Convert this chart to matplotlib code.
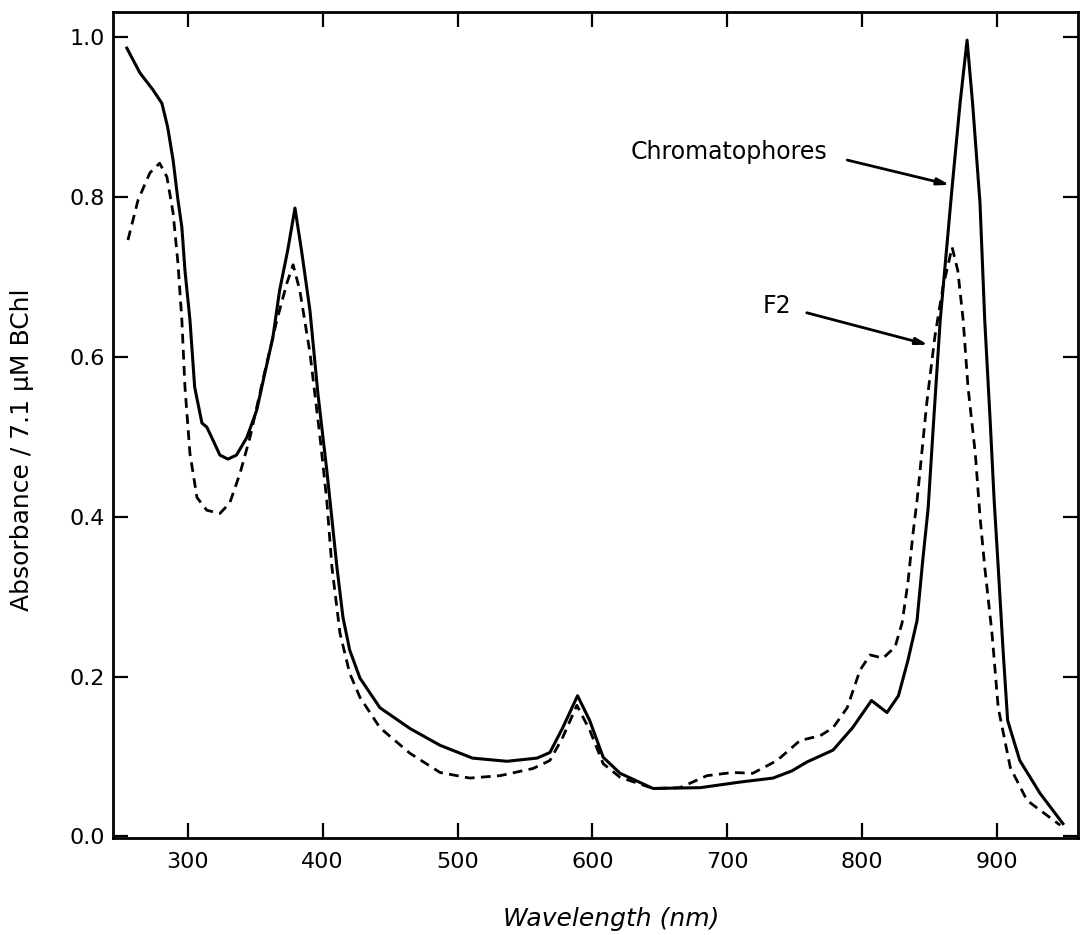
import numpy as np
import matplotlib
matplotlib.use('Agg')
from matplotlib import pyplot as plt

# absorption spectra, absorbance normalised to 7.1 uM BChl
chrom_nm = [254.7, 264.4, 274, 280.7, 285, 289, 292.6, 295.5, 297.8, 301.5,
            305, 310.4, 314, 318.5, 323.7, 329.7, 336, 343.7, 351, 357,
            363, 368, 374, 379.4, 384.5, 390.5, 396.4, 403, 406, 410.5,
            415, 420, 427.6, 442.4, 464.7, 487, 511, 536.6, 559, 568.5,
            578, 589, 598, 608, 620.5, 645, 680, 709.5, 734, 748,
            759, 778.5, 793, 807, 818.5, 827, 834, 840.8, 845, 849,
            853.5, 858, 866.8, 872.7, 877.9, 882, 887.5, 891, 895, 898,
            901, 904.6, 908, 917, 932, 949]
chrom_abs = [0.986, 0.955, 0.934, 0.917, 0.887, 0.846, 0.796, 0.762, 0.708, 0.646,
             0.562, 0.517, 0.512, 0.496, 0.477, 0.472, 0.477, 0.499, 0.533, 0.579,
             0.624, 0.683, 0.733, 0.786, 0.730, 0.658, 0.554, 0.458, 0.410, 0.337,
             0.274, 0.233, 0.198, 0.161, 0.135, 0.114, 0.098, 0.094, 0.098, 0.105,
             0.136, 0.176, 0.145, 0.099, 0.079, 0.060, 0.061, 0.068, 0.073, 0.082,
             0.093, 0.108, 0.136, 0.170, 0.155, 0.176, 0.220, 0.270, 0.345, 0.410,
             0.530, 0.646, 0.812, 0.917, 0.996, 0.917, 0.792, 0.646, 0.521, 0.420,
             0.337, 0.233, 0.145, 0.095, 0.054, 0.016]

f2_nm = [255.5, 263, 271.8, 279, 284.4, 289, 292.6, 295.5, 297.8, 301.5,
         306.7, 314, 323.7, 331, 338.6, 346, 355.6, 366, 373.4, 378,
         383, 390.5, 398, 403, 406.8, 412.8, 420, 427.6, 442.4, 464.7,
         487, 509, 531.5, 556, 568.5, 578, 588.5, 598, 608, 620.5,
         645, 665, 685, 704, 719, 737, 754, 769, 778.5, 789,
         798.5, 806, 815.6, 824.5, 829.7, 834, 837.8, 840.8, 848, 854,
         860, 866.8, 871, 875, 878.6, 884, 887.5, 891, 896.4, 901,
         910, 922.4, 947]
f2_abs = [0.746, 0.796, 0.830, 0.842, 0.825, 0.780, 0.717, 0.646, 0.562, 0.479,
          0.424, 0.408, 0.404, 0.417, 0.454, 0.499, 0.571, 0.646, 0.692, 0.715,
          0.683, 0.605, 0.499, 0.420, 0.337, 0.254, 0.204, 0.174, 0.136, 0.104,
          0.080, 0.073, 0.076, 0.085, 0.095, 0.124, 0.164, 0.133, 0.091, 0.074,
          0.060, 0.061, 0.076, 0.080, 0.079, 0.095, 0.120, 0.126, 0.136, 0.161,
          0.208, 0.227, 0.223, 0.237, 0.267, 0.317, 0.379, 0.420, 0.542, 0.625,
          0.687, 0.737, 0.708, 0.646, 0.562, 0.479, 0.400, 0.337, 0.254, 0.161,
          0.086, 0.045, 0.014]

x_ticks = [300, 400, 500, 600, 700, 800, 900]
y_ticks = [0.0, 0.2, 0.4, 0.6, 0.8, 1.0]

plt.rcParams['font.family'] = 'DejaVu Sans'

fig = plt.figure(figsize=(10.81, 9.35), dpi=100)
ax = fig.add_axes([0.1045, 0.1037, 0.8925, 0.8833])

ax.plot(chrom_nm, chrom_abs, color='black', lw=2.2, solid_joinstyle='round')
ax.plot(f2_nm, f2_abs, color='black', lw=2.0, linestyle=(0, (3.5, 2.3)))

ax.set_xlim(244.4, 960)
ax.set_ylim(-0.002, 1.031)
ax.set_xticks(x_ticks)
ax.set_yticks(y_ticks)
ax.set_yticklabels(['%.1f' % v for v in y_ticks])

ax.tick_params(direction='in', length=11, width=1.6, top=True, right=True,
               labelsize=16, pad=10)
ax.tick_params(axis='y', pad=6)
for s in ax.spines.values():
    s.set_linewidth(2.0)

ax.set_xlabel('Wavelength (nm)', fontsize=18, style='italic')
ax.xaxis.set_label_coords(0.516, -0.083)
ax.set_ylabel('Absorbance / 7.1 \u03bcM BChl', fontsize=18)
ax.yaxis.set_label_coords(-0.082, 0.47)

arrow = dict(arrowstyle='-|>,head_length=0.7,head_width=0.2', color='black', lw=2.0,
             shrinkA=0, shrinkB=0)
ax.text(701, 0.856, 'Chromatophores', fontsize=17, ha='center', va='center')
ax.annotate('', xy=(865, 0.815), xytext=(789, 0.846), arrowprops=arrow)
ax.text(737, 0.663, 'F2', fontsize=17, ha='center', va='center')
ax.annotate('', xy=(849, 0.615), xytext=(759, 0.655), arrowprops=arrow)

fig.savefig('out.png', dpi=100)
